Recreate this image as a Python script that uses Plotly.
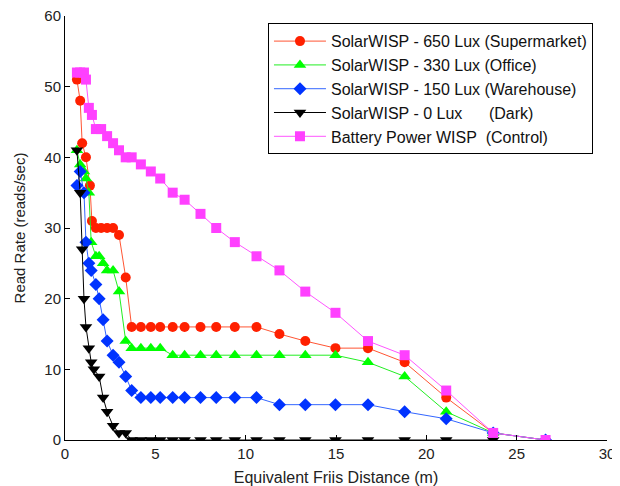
import plotly.graph_objects as go

# Equivalent Friis distance (m) and read rate (reads/sec) for each series
red_x = [0.66, 0.84, 0.95, 1.16, 1.38, 1.49, 1.71, 2.0, 2.33, 2.66, 2.99, 3.36, 3.69, 4.2, 4.75,
         5.27, 5.96, 6.62, 7.5, 8.37, 9.4, 10.6, 11.87, 13.3, 14.97, 16.77, 18.8, 21.1, 23.7, 26.6]
red_y = [51, 48, 42, 40, 36, 31, 30, 30, 30, 30, 29, 23, 16, 16, 16,
         16, 16, 16, 16, 16, 16, 16, 15, 14, 13, 13, 11, 6, 1, 0]

green_x = [0.66, 0.84, 1.05, 1.16, 1.32, 1.45, 1.71, 1.89, 2.11, 2.33, 2.66, 2.99, 3.36, 3.69, 4.2, 4.75,
           5.27, 5.96, 6.62, 7.5, 8.37, 9.4, 10.6, 11.87, 13.3, 14.97, 16.77, 18.8, 21.1, 23.7, 26.6]
green_y = [41, 39, 38, 37, 35, 28, 26, 26, 25, 24, 24, 21, 14, 13, 13, 13,
           13, 12, 12, 12, 12, 12, 12, 12, 12, 12, 11, 9, 4, 1, 0]

blue_x = [0.66, 0.84, 1.05, 1.16, 1.32, 1.45, 1.71, 1.89, 2.11, 2.33, 2.66, 2.99, 3.36, 3.69, 4.2, 4.75,
          5.27, 5.96, 6.62, 7.5, 8.37, 9.4, 10.6, 11.87, 13.3, 14.97, 16.77, 18.8, 21.1, 23.7, 26.6]
blue_y = [36, 38, 35, 28, 25, 24, 22, 20, 17, 14, 12, 11, 9, 7, 6, 6,
          6, 6, 6, 6, 6, 6, 6, 5, 5, 5, 5, 4, 3, 1, 0]

black_x = [0.66, 0.84, 0.95, 1.05, 1.16, 1.32, 1.45, 1.6, 1.89, 2.11, 2.33, 2.66, 2.99, 3.36, 3.69, 4.2,
           4.75, 5.27, 5.96, 6.62, 7.5, 8.37, 9.4, 10.6, 11.87, 13.3, 14.97, 16.77, 18.8, 21.1, 23.7]
black_y = [41, 35, 27, 20, 16, 13, 11, 10, 9, 6, 4, 2, 1, 1, 0, 0,
           0, 0, 0, 0, 0, 0, 0, 0, 0, 0, 0, 0, 0, 0, 0]

pink_x = [0.66, 0.84, 1.05, 1.16, 1.32, 1.49, 1.71, 2.0, 2.33, 2.66, 2.99, 3.36, 3.69, 4.2, 4.75,
          5.27, 5.96, 6.62, 7.5, 8.37, 9.4, 10.6, 11.87, 13.3, 14.97, 16.77, 18.8, 21.1, 23.7, 26.6]
pink_y = [52, 52, 52, 51, 47, 46, 44, 44, 43, 42, 41, 40, 40, 39, 38,
          37, 35, 34, 32, 30, 28, 26, 24, 21, 18, 14, 12, 7, 1, 0]

NB = "\u00a0"
names = [
    "SolarWISP - 650 Lux (Supermarket)",
    "SolarWISP - 330 Lux (Office)",
    "SolarWISP - 150 Lux (Warehouse)",
    "SolarWISP - 0 Lux" + NB * 6 + "(Dark)",
    "Battery Power WISP" + NB * 2 + "(Control)",
]

series = [
    (red_x, red_y, names[0], "#FF2000", "#FF5533", "circle", 10),
    (green_x, green_y, names[1], "#00FF00", "#22EE22", "triangle-up", 11),
    (blue_x, blue_y, names[2], "#0033FF", "#3366FF", "diamond", 10),
    (black_x, black_y, names[3], "#000000", "#000000", "triangle-down", 11),
    (pink_x, pink_y, names[4], "#FF40FF", "#FF55FF", "square", 10),
]

fig = go.Figure()
for x, y, name, mc, lc, sym, sz in series:
    fig.add_trace(go.Scatter(
        x=x, y=y, name=name, mode="lines+markers",
        line=dict(color=lc, width=1),
        marker=dict(symbol=sym, size=sz, color=mc, line=dict(width=0)),
    ))

font_family = "Arial, Liberation Sans, sans-serif"
fig.update_layout(
    width=612, height=478,
    margin=dict(l=57, r=13, t=8, b=46),
    paper_bgcolor="white", plot_bgcolor="white",
    font=dict(family=font_family, size=15, color="#222222"),
    showlegend=True,
    legend=dict(
        x=0.3745, y=0.983, xanchor="left", yanchor="top",
        bgcolor="white", bordercolor="black", borderwidth=1,
        font=dict(family=font_family, size=16, color="#111111"),
        tracegroupgap=0, itemwidth=52,
    ),
    xaxis=dict(
        range=[0, 30], dtick=5, tick0=0, automargin=False,
        ticklabeloverflow="allow",
        showgrid=False, zeroline=False,
        showline=True, linecolor="black", linewidth=1,
        ticks="inside", ticklen=5, tickcolor="black",
        title=dict(text="Equivalent Friis Distance (m)", font=dict(size=16)),
    ),
    yaxis=dict(
        range=[0, 60], dtick=10, tick0=0, automargin=False,
        ticklabeloverflow="allow",
        showgrid=False, zeroline=False,
        showline=True, linecolor="black", linewidth=1,
        ticks="inside", ticklen=5, tickcolor="black",
        title=dict(text="Read Rate (reads/sec)", font=dict(size=15)),
    ),
)

fig.write_html("out.html")
